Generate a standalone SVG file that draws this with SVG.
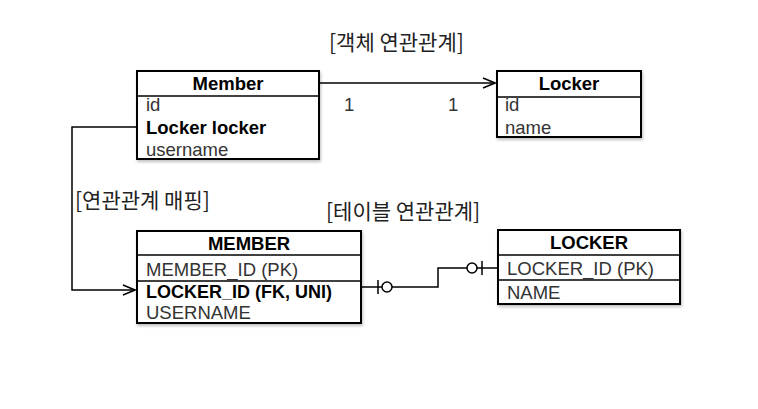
<svg xmlns="http://www.w3.org/2000/svg" width="758" height="409" viewBox="0 0 758 409">
<style>
.box{fill:#fff;stroke:#000;stroke-width:2}
.ln{stroke:#000;stroke-width:1.5;fill:none}
.conn{stroke:#000;stroke-width:1.5;fill:none}
.t{font-family:"Liberation Sans",Arial,sans-serif;font-size:18.5px;fill:#333}
.b{font-family:"Liberation Sans",Arial,sans-serif;font-size:18.5px;font-weight:bold;fill:#000}
.h{text-anchor:middle}
.k{font-family:"Noto Sans CJK KR","Noto Sans",sans-serif;font-size:21px;fill:#222}
</style>
<defs>
<filter id="sh" x="-10%" y="-10%" width="120%" height="130%">
<feDropShadow dx="1" dy="2" stdDeviation="1.5" flood-color="#000" flood-opacity="0.25"/>
</filter>
<marker id="arr" markerWidth="14" markerHeight="12" refX="13" refY="6" orient="auto" markerUnits="userSpaceOnUse">
<path d="M1,1 L13,6 L1,11" fill="none" stroke="#000" stroke-width="1.5"/>
</marker>
</defs>
<rect width="758" height="409" fill="#fff"/>
<text class="k" x="329" y="50">[객체 연관관계]</text>
<text class="k" x="75" y="208">[연관관계 매핑]</text>
<text class="k" x="326" y="219">[테이블 연관관계]</text>

<g id="connectors">
<path class="conn" d="M319,83 L495,83" marker-end="url(#arr)"/>
<path class="conn" d="M137,127 L72,127 L72,290 L135,290" marker-end="url(#arr)"/>
<path class="conn" d="M361,287 L438,287 L438,268 L498,268"/>
<line class="conn" x1="378" y1="280" x2="378" y2="294"/>
<circle cx="387" cy="287" r="5" fill="#fff" stroke="#000" stroke-width="1.5"/>
<circle cx="472" cy="268" r="5" fill="#fff" stroke="#000" stroke-width="1.5"/>
<line class="conn" x1="482" y1="261" x2="482" y2="275"/>
<text class="t" x="344" y="111">1</text>
<text class="t" x="448" y="111">1</text>
</g>

<g id="Member">
<rect class="box" x="137" y="71" width="182" height="88" filter="url(#sh)"/>
<line class="ln" x1="137" y1="96" x2="319" y2="96"/>
<text class="b h" x="228" y="90">Member</text>
<text class="t" x="146" y="111">id</text>
<text class="b" x="146" y="134">Locker locker</text>
<text class="t" x="146" y="156">username</text>
</g>

<g id="Locker">
<rect class="box" x="497" y="71" width="144" height="66" filter="url(#sh)"/>
<line class="ln" x1="497" y1="97" x2="641" y2="97"/>
<text class="b h" x="569" y="90">Locker</text>
<text class="t" x="505" y="111">id</text>
<text class="t" x="505" y="134">name</text>
</g>

<g id="MEMBER">
<rect class="box" x="137" y="231" width="224" height="92" filter="url(#sh)"/>
<line class="ln" x1="137" y1="255" x2="361" y2="255"/>
<line class="ln" x1="137" y1="281" x2="361" y2="281"/>
<text class="b h" x="249" y="250">MEMBER</text>
<text class="t" x="146" y="276">MEMBER_ID (PK)</text>
<text class="b" x="146" y="298" textLength="186" lengthAdjust="spacingAndGlyphs">LOCKER_ID (FK, UNI)</text>
<text class="t" x="146" y="319">USERNAME</text>
</g>

<g id="LOCKER">
<rect class="box" x="498" y="230" width="182" height="74" filter="url(#sh)"/>
<line class="ln" x1="498" y1="255" x2="680" y2="255"/>
<line class="ln" x1="498" y1="280" x2="680" y2="280"/>
<text class="b h" x="589" y="249">LOCKER</text>
<text class="t" x="507" y="275">LOCKER_ID (PK)</text>
<text class="t" x="507" y="299">NAME</text>
</g>
</svg>
